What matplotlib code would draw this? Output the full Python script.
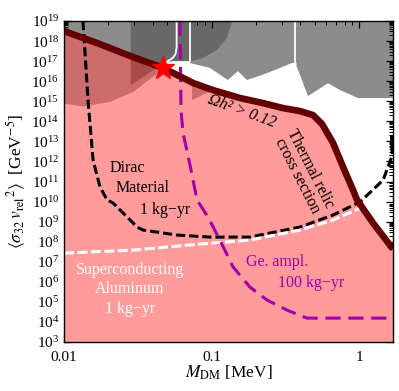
import matplotlib
matplotlib.use("Agg")
import matplotlib.pyplot as plt
import numpy as np
from matplotlib.ticker import LogLocator, NullFormatter, FixedLocator, FixedFormatter

plt.rcParams['font.family'] = ['Liberation Serif', 'DejaVu Serif']
plt.rcParams['mathtext.fontset'] = 'stix'

# thermal relic line (M in MeV, log10 of <sigma v^2> in GeV^-5)
therm_m = [0.01, 0.0175, 0.028, 0.047, 0.075, 0.102, 0.156, 0.223, 0.305, 0.398,
           0.488, 0.561, 0.667, 0.78, 0.91, 0.97, 1.245, 1.70]
therm_s = [18.50, 17.85, 17.26, 16.66, 15.91, 15.56, 15.16, 14.91, 14.66, 14.51,
           14.31, 13.87, 12.92, 11.72, 10.58, 10.08, 8.93, 7.63]

# grey excluded region (lower edge)
gray_m = [0.01, 0.01, 0.045, 0.046, 0.050, 0.0545, 0.0715, 0.0715, 0.0977, 0.129, 0.151,
          0.174, 0.22, 0.291, 0.351, 0.37, 0.451, 0.617, 0.743, 0.984, 1.7, 1.7]
gray_s = [19, 16, 16, 16.7, 16.98, 17.0, 17.0, 16.9, 16.66, 16.06, 16.5,
          16.06, 16.31, 16.66, 16.91, 16.91, 15.26, 15.9, 15.56, 15.16, 15.16, 19]

# darker overlays
a_m = [0.01, 0.0135, 0.0205, 0.0294, 0.0383, 0.047]
a_s = [14.9, 14.76, 15.0, 15.5, 16.15, 16.66]
b_m = [0.0283, 0.0283, 0.0427, 0.047, 0.051, 0.054, 0.0738, 0.0875, 0.109, 0.127, 0.136, 0.137]
b_s = [19, 15.8, 16.66, 16.72, 16.92, 17.0, 17.0, 17.16, 17.55, 18.15, 18.8, 19]
blow_m = [0.0283, 0.0283, 0.0427]
blow_s = [17.3, 15.8, 16.66]
c_m = [0.0738, 0.0738, 0.102]
c_s = [15.95, 15.06, 15.56]

# white boundary lines
wcurve_m = [0.046, 0.050, 0.0545, 0.057, 0.058, 0.058]
wcurve_s = [16.7, 16.98, 17.15, 17.35, 17.7, 19]
wline1_m = [0.0715, 0.0715]
wline1_s = [19, 17.0]
wline2_m = [0.368, 0.368, 0.372]
wline2_s = [19, 17.0, 16.85]

# projected reaches
dirac_m = [0.01345, 0.01455, 0.01574, 0.01754, 0.01959, 0.0215, 0.0313, 0.0343, 0.0584,
           0.0977, 0.182, 0.398, 0.667, 1.016, 1.456, 1.68, 1.66]
dirac_s = [19.0, 15.06, 12.07, 10.73, 10.08, 9.93, 8.73, 8.58, 8.33,
           8.23, 8.23, 8.73, 9.33, 9.98, 11.07, 12.3, 13.3]
al_m = [0.01, 0.0294, 0.0836, 0.182, 0.398, 0.667, 1.064]
al_s = [7.43, 7.58, 7.88, 8.08, 8.58, 9.08, 9.73]
ge_m = [0.0611, 0.0621, 0.0641, 0.0715, 0.0798, 0.0946, 0.114, 0.140, 0.182, 0.238,
        0.325, 0.444, 1.70]
ge_s = [19, 14.56, 13.42, 11.82, 10.08, 9.23, 8.08, 6.74, 5.74, 5.09,
        4.59, 4.19, 4.19]

star_m = [0.047]
star_s = [16.66]

xticks = [0.01, 0.1, 1]
xticklabels = ['0.01', '0.1', '1']

def p(v):
    return 10 ** np.array(v, dtype=float)

fig = plt.figure(figsize=(3.99, 3.91), dpi=100)
ax = fig.add_axes([0.1604, 0.1253, 0.8246, 0.821])
ax.set_xscale('log')
ax.set_yscale('log')
ax.set_xlim(0.01, 1.7)
ax.set_ylim(1e3, 1e19)

pink = '#ff9b9b'
shade = '#5a0000'
ax.fill(gray_m, p(gray_s), color='#8c8c8c', lw=0, zorder=1)
ax.fill(b_m, p(b_s), color='k', alpha=0.25, lw=0, zorder=1.5)
ax.fill_between(therm_m, 1e3, p(therm_s), color=pink, lw=0, zorder=2)

# overlays on the pink side: top follows the thermal line
a_top = np.interp(np.log10(a_m), np.log10(therm_m), therm_s)
ax.fill_between(a_m, p(a_s), p(a_top), color=shade, alpha=0.3, lw=0, zorder=3)
ax.fill(blow_m, p(blow_s), color=shade, alpha=0.3, lw=0, zorder=3)
ax.fill(c_m, p(c_s), color=shade, alpha=0.3, lw=0, zorder=3)

for xm, ys in [(wcurve_m, wcurve_s), (wline1_m, wline1_s), (wline2_m, wline2_s)]:
    ax.plot(xm, p(ys), color='white', lw=1.3, zorder=4)

ax.plot(dirac_m, p(dirac_s), color='black', lw=2.2, ls=(0, (3, 1.3)), zorder=5)
ax.plot(al_m, p(al_s), color='white', lw=2.2, ls=(0, (3.3, 1.1)), zorder=5)
ax.plot(ge_m, p(ge_s), color='#a300a8', lw=2.2, ls=(0, (5, 2.5)), zorder=5)

ax.plot(therm_m, p(therm_s), color='#640000', lw=4.8, solid_capstyle='butt', zorder=6)
ax.plot(star_m, p(star_s), marker='*', color='red', ms=17, mec='red', ls='none', zorder=7)

# labels
fs = 11.5
ax.text(0.161, 10**14.5, 'Ωh² > 0.12', rotation=-20, ha='center', va='center',
        fontsize=fs, style='italic', zorder=8)
ax.text(0.42, 10**11.45, 'Thermal relic\ncross section', rotation=-63, ha='center',
        va='center', fontsize=fs, linespacing=0.9, zorder=8)
ax.text(0.0267, 10**11.67, 'Dirac', ha='center', va='center', fontsize=fs, zorder=8)
ax.text(0.0343, 10**10.67, 'Material', ha='center', va='center', fontsize=fs, zorder=8)
ax.text(0.0484, 10**9.58, '1 kg\u2212yr', ha='center', va='center', fontsize=fs, zorder=8)
ax.text(0.028, 10**6.59, 'Superconducting', ha='center', va='center', fontsize=fs,
        color='white', zorder=8)
ax.text(0.028, 10**5.64, 'Aluminum', ha='center', va='center', fontsize=fs,
        color='white', zorder=8)
ax.text(0.028, 10**4.64, '1 kg\u2212yr', ha='center', va='center', fontsize=fs,
        color='white', zorder=8)
ax.text(0.278, 10**6.99, 'Ge. ampl.', ha='center', va='center', fontsize=fs,
        color='#a300a8', zorder=8)
ax.text(0.473, 10**5.94, '100 kg\u2212yr', ha='center', va='center', fontsize=fs,
        color='#a300a8', zorder=8)

# axes
ax.xaxis.set_major_locator(FixedLocator(xticks))
ax.xaxis.set_major_formatter(FixedFormatter(xticklabels))
ax.xaxis.set_minor_locator(LogLocator(base=10, subs=np.arange(2, 10), numticks=20))
ax.xaxis.set_minor_formatter(NullFormatter())
ax.yaxis.set_major_locator(LogLocator(base=10, subs=(1.0,), numticks=30))
ax.yaxis.set_minor_locator(LogLocator(base=10, subs=np.arange(2, 10), numticks=30))
ax.yaxis.set_minor_formatter(NullFormatter())
ax.tick_params(which='both', direction='in', top=True, right=True, labelsize=11)
ax.tick_params(which='major', length=5, width=0.9)
ax.tick_params(which='minor', length=3, width=0.7)
ax.tick_params(axis='x', pad=6.5)
for s in ax.spines.values():
    s.set_linewidth(1.0)
    s.set_zorder(10)

ax.set_xlabel(r'$M_{\rm DM}$ [MeV]', fontsize=12.5, labelpad=0)
ax.set_ylabel(r'$\langle \sigma_{32}\, v_{\rm rel}{}^2 \rangle$  [GeV$^{-5}$]',
              fontsize=12.5, labelpad=2)

fig.savefig('out.png', dpi=100)
